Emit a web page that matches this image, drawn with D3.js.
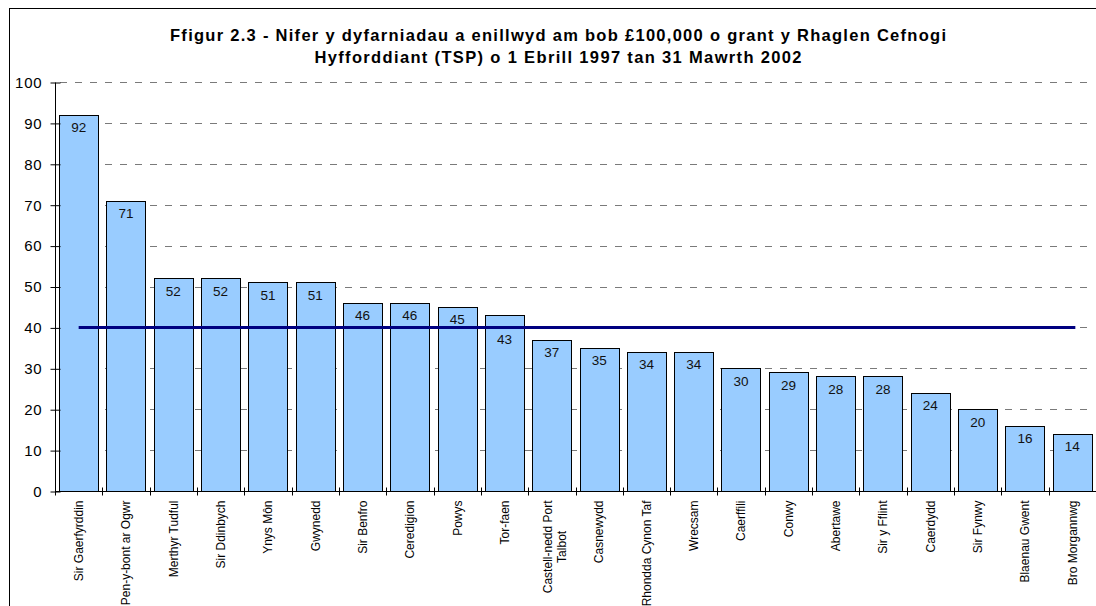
<!DOCTYPE html>
<html>
<head>
<meta charset="utf-8">
<script src="https://cdn.jsdelivr.net/npm/d3@7"></script>
<style>
  body { margin: 0; background: #fff; }
  svg { font-family: "Liberation Sans", Arial, sans-serif; }
</style>
</head>
<body>
<svg id="chart" width="1096" height="606"></svg>
<script>
const categories = ["Sir Gaerfyrddin", "Pen-y-bont ar Ogwr", "Merthyr Tudful", "Sir Ddinbych", "Ynys Môn",
  "Gwynedd", "Sir Benfro", "Ceredigion", "Powys", "Tor-faen", "Castell-nedd Port|Talbot", "Casnewydd",
  "Rhondda Cynon Taf", "Wrecsam", "Caerffili", "Conwy", "Abertawe", "Sir y Fflint", "Caerdydd",
  "Sir Fynwy", "Blaenau Gwent", "Bro Morgannwg"];
const values = [92, 71, 52, 52, 51, 51, 46, 46, 45, 43, 37, 35, 34, 34, 30, 29, 28, 28, 24, 20, 16, 14];
const average = 40;
const yTicks = [0, 10, 20, 30, 40, 50, 60, 70, 80, 90, 100];
const titleLines = ["Ffigur 2.3 - Nifer y dyfarniadau a enillwyd am bob £100,000 o grant y Rhaglen Cefnogi",
  "Hyfforddiant (TSP) o 1 Ebrill 1997 tan 31 Mawrth 2002"];

const svg = d3.select("#chart");

// outer frame
svg.append("rect").attr("x", 9.5).attr("y", 8.5).attr("width", 1100).attr("height", 620)
  .attr("fill", "none").attr("stroke", "#000");

const titleWidths = [776, 487];
svg.selectAll(".title").data(titleLines).enter().append("text")
  .attr("x", 558).attr("y", (d, i) => 41 + i * 22)
  .attr("text-anchor", "middle").attr("font-size", 16.5).attr("font-weight", "bold")
  .attr("textLength", (d, i) => titleWidths[i]).attr("lengthAdjust", "spacing")
  .text(d => d);

const plotL = 55, plotR = 1096, plotT = 82, plotB = 491;
const x = d3.scaleBand().domain(categories).range([plotL, plotR]).paddingInner(0.17).paddingOuter(0.085);
const y = d3.scaleLinear().domain([0, 100]).range([plotB, plotT]);

// grid
svg.selectAll(".grid").data(yTicks.filter(t => t > 0)).enter().append("line")
  .attr("x1", plotL + 5).attr("x2", plotR - 6)
  .attr("y1", d => Math.round(y(d)) + 0.5).attr("y2", d => Math.round(y(d)) + 0.5)
  .attr("stroke", "#7a7a7a").attr("stroke-dasharray", "7,8");

// bars
svg.selectAll(".bar").data(values).enter().append("rect")
  .attr("x", (d, i) => Math.round(x(categories[i])) + 0.5)
  .attr("y", d => Math.round(y(d)) + 0.5)
  .attr("width", Math.round(x.bandwidth()))
  .attr("height", d => Math.round(y(0)) - Math.round(y(d)))
  .attr("fill", "#99ccff").attr("stroke", "#000");

// average line
svg.append("line")
  .attr("x1", x(categories[0]) + x.bandwidth() / 2)
  .attr("x2", x(categories[categories.length - 1]) + x.bandwidth() / 2 + 3)
  .attr("y1", y(average)).attr("y2", y(average))
  .attr("stroke", "#000080").attr("stroke-width", 3);

// value labels, pushed below the average line when they would sit on it
svg.selectAll(".val").data(values).enter().append("text")
  .attr("x", (d, i) => x(categories[i]) + x.bandwidth() / 2)
  .attr("y", d => {
    let c = y(d) + 12.5;
    if (Math.abs(c - y(average)) < 6) c = y(average) + 11.5;
    return c + 5;
  })
  .attr("text-anchor", "middle").attr("font-size", 13.5).attr("fill", "#111")
  .text(d => d);

// y axis
const yAxis = svg.append("g").attr("transform", `translate(${plotL + 0.5},0.5)`)
  .call(d3.axisLeft(y).tickValues(yTicks).tickSize(5).tickPadding(8));
yAxis.select(".domain").attr("d", `M0,${Math.round(y(100))}V${Math.round(y(0))}`);
yAxis.selectAll(".tick line").attr("x1", 5).attr("x2", -5);
yAxis.selectAll("text").attr("font-size", 15).attr("font-family", "Liberation Sans, Arial, sans-serif")
  .attr("letter-spacing", 0.8).attr("fill", "#000");

// x axis
const xAxis = svg.append("g").attr("transform", `translate(0,${Math.round(y(0)) + 0.5})`);
xAxis.append("line").attr("x1", plotL).attr("x2", plotR).attr("stroke", "#000");
xAxis.selectAll(".tk").data(categories).enter().append("line")
  .attr("x1", d => Math.round(x(d) - x.step() * x.paddingInner() / 2) + 0.5)
  .attr("x2", d => Math.round(x(d) - x.step() * x.paddingInner() / 2) + 0.5)
  .attr("y1", -4).attr("y2", 4).attr("stroke", "#000");

const labels = xAxis.selectAll(".lbl").data(categories).enter().append("text")
  .attr("transform", d => `translate(${x(d) + x.bandwidth() / 2},9) rotate(-90)`)
  .attr("font-size", 12);
labels.each(function (d) {
  const parts = d.split("|");
  const t = d3.select(this);
  if (parts.length === 1) {
    t.append("tspan").attr("x", 0).attr("dy", 4.3).attr("text-anchor", "end").text(d);
  } else {
    const first = t.append("tspan").attr("x", 0).attr("dy", 0).attr("text-anchor", "end").text(parts[0]);
    const w = first.node().getComputedTextLength();
    parts.slice(1).forEach(p => {
      t.append("tspan").attr("x", -w / 2).attr("dy", 14).attr("text-anchor", "middle").text(p);
    });
  }
});
</script>
</body>
</html>
